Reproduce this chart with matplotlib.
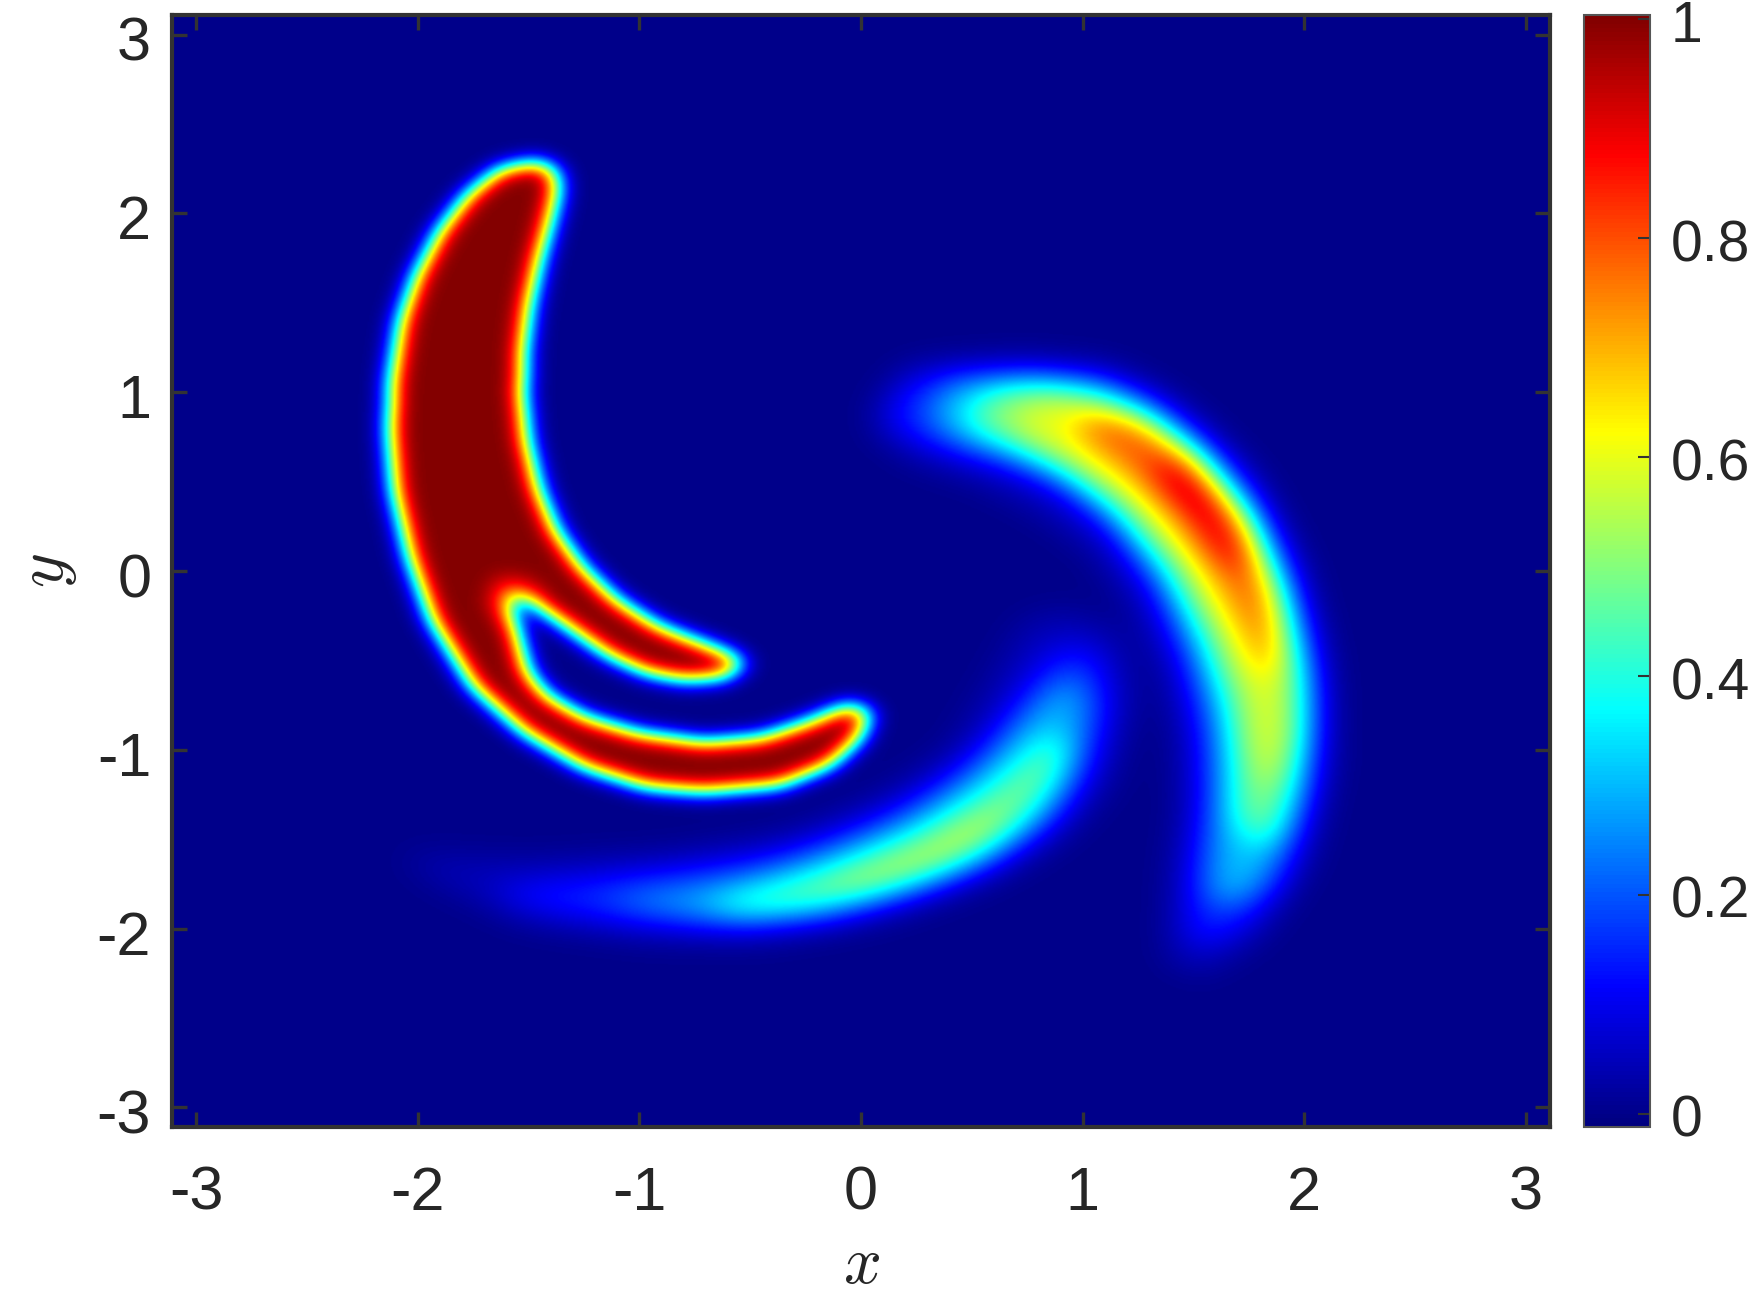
import numpy as np
import matplotlib
matplotlib.use('Agg')
import matplotlib.pyplot as plt
from matplotlib.colors import LinearSegmentedColormap
from matplotlib.path import Path
from matplotlib.transforms import ScaledTranslation

# contour lines, (x, y) in axis units
left_edge = [(-1.47,2.29),(-1.385,2.25),(-1.37,2.14),(-1.40,1.98),(-1.456,1.73),(-1.50,1.48),(-1.525,1.23),(-1.53,.98),
             (-1.51,.73),(-1.456,.453),(-1.38,.228),(-1.266,.028),(-1.11,-.16),(-.92,-.31),(-.713,-.41),(-.58,-.475),
             (-.53,-.52),(-.62,-.595),(-.80,-.61),(-.97,-.57),(-1.145,-.47),(-1.317,-.32),(-1.47,-.19),(-1.60,-.11),
             (-1.55,-.37),(-1.507,-.57),(-1.42,-.70),(-1.25,-.82),(-1.006,-.91),(-.713,-.96),(-.454,-.935),(-.246,-.85),
             (-.056,-.75),(.04,-.79),(-.01,-.935),(-.14,-1.085),(-.367,-1.20),(-.713,-1.235),(-.97,-1.21),(-1.25,-1.10),
             (-1.525,-.90),(-1.75,-.65),(-1.94,-.27),(-2.04,.08),(-2.11,.453),(-2.13,.78),(-2.12,1.08),(-2.08,1.40),
             (-2.01,1.65),(-1.905,1.90),(-1.78,2.10),(-1.63,2.25)]
# the paler red patch round the top of the notch
left_notch = [(-1.66,-.02),(-1.52,-.03),(-1.42,-.12),(-1.5,-.28),(-1.62,-.32),(-1.70,-.18)]

right_faint = [(.05,.89),(.20,1.16),(.75,1.21),(1.135,1.16),(1.445,.94),(1.76,.575),(1.99,.04),(2.11,-.54),(2.13,-1.08),
               (2.02,-1.63),(1.80,-2.05),(1.54,-2.27),(1.38,-2.19),(1.40,-1.68),(1.445,-1.32),(1.43,-.955),(1.37,-.615),
               (1.21,-.20),(1.03,.114),(.78,.33),(.51,.50),(.25,.60),(.08,.75)]
right_blue = [(.11,.89),(.20,1.06),(.435,1.13),(.75,1.12),(1.06,1.10),(1.29,.99),(1.52,.77),(1.76,.45),(1.91,.09),(2.02,-.35),
              (2.07,-.71),(2.05,-1.08),(2.005,-1.39),(1.90,-1.76),(1.725,-2.0),(1.57,-2.10),(1.46,-2.05),(1.48,-1.68),
              (1.52,-1.32),(1.51,-.955),(1.445,-.54),(1.32,-.13),(1.135,.21),(.90,.45),(.67,.575),(.435,.65),(.25,.72),(.14,.79)]
right_light = [(.3,.89),(.4,1.06),(.75,1.09),(1.06,1.05),(1.29,.93),(1.52,.70),(1.76,.36),(1.91,-.03),(2.01,-.47),(2.03,-.85),
               (2.0,-1.2),(1.93,-1.5),(1.82,-1.76),(1.68,-1.88),(1.56,-1.82),(1.58,-1.55),(1.61,-1.2),(1.6,-.85),(1.5,-.45),
               (1.35,-.05),(1.13,.3),(.9,.52),(.67,.64),(.45,.72),(.35,.79)]
right_cyan = [(.48,.89),(.59,1.025),(.82,1.05),(1.06,1.0),(1.29,.87),(1.52,.62),(1.76,.26),(1.91,-.15),(1.99,-.59),(1.99,-.955),
              (1.94,-1.27),(1.865,-1.49),(1.79,-1.54),(1.69,-1.37),(1.69,-1.08),(1.65,-.71),(1.54,-.35),(1.37,.04),(1.135,.38),
              (.90,.58),(.67,.70),(.51,.79)]
right_green = [(.68,.89),(.82,.99),(1.06,.95),(1.29,.82),(1.52,.60),(1.76,.21),(1.90,-.23),(1.94,-.59),(1.935,-.955),(1.88,-1.17),
               (1.82,-1.22),(1.76,-1.03),(1.725,-.71),(1.63,-.40),(1.46,-.01),(1.21,.33),(.995,.527),(.78,.70),(.70,.79)]
right_yellow = [(.95,.82),(1.06,.88),(1.29,.83),(1.52,.65),(1.725,.33),(1.85,-.10),(1.87,-.40),(1.85,-.57),(1.82,-.59),
                (1.74,-.35),(1.60,-.03),(1.41,.31),(1.21,.55),(1.03,.72)]
right_red = [(1.31,.62),(1.43,.60),(1.57,.43),(1.68,.21),(1.74,-.01),(1.66,.04),(1.54,.26),(1.41,.43)]

low_faint = [(-2.09,-1.58),(-1.52,-1.62),(-.86,-1.58),(-.31,-1.47),(.12,-1.24),(.41,-1.0),(.58,-.63),(.74,-.27),(.93,-.22),
             (1.17,-.35),(1.23,-.72),(1.11,-1.21),(.89,-1.50),(.56,-1.73),(.12,-1.93),(-.42,-2.06),(-.97,-2.06),(-1.52,-1.97),(-1.91,-1.75)]
low_blue = [(-1.67,-1.78),(-1.30,-1.73),(-.86,-1.67),(-.42,-1.60),(.01,-1.43),(.34,-1.22),(.58,-.98),(.74,-.68),(.85,-.48),(.98,-.40),
            (1.09,-.51),(1.11,-.78),(1.04,-1.09),(.91,-1.36),(.67,-1.58),(.34,-1.75),(-.095,-1.92),(-.53,-1.99),(-.97,-1.98),(-1.30,-1.93),(-1.56,-1.86)]
low_light = [(-1.2,-1.84),(-.6,-1.74),(-.2,-1.6),(.2,-1.38),(.5,-1.12),(.72,-.82),(.88,-.62),(1.0,-.6),(1.03,-.8),(.96,-1.1),(.82,-1.38),
             (.58,-1.62),(.25,-1.79),(-.15,-1.92),(-.7,-1.96)]
low_cyan = [(-.72,-1.86),(-.42,-1.78),(-.095,-1.65),(.23,-1.49),(.52,-1.28),(.74,-1.06),(.86,-.91),(.93,-.96),(.89,-1.17),(.74,-1.41),
            (.45,-1.64),(.12,-1.78),(-.25,-1.90),(-.53,-1.93)]
low_green = [(-.205,-1.775),(.06,-1.67),(.34,-1.52),(.58,-1.355),(.67,-1.37),(.54,-1.54),(.28,-1.69),(-.01,-1.80)]

# value reached inside each contour
left_levels = [1.0, .9]
right_levels = [.05, .15, .31, .5, .6, .8, 1.0]
low_levels = [.05, .16, .3, .5, .6]

x_ticks = [-3, -2, -1, 0, 1, 2, 3]
y_ticks = [-3, -2, -1, 0, 1, 2, 3]
tick_labels = ['-3', '-2', '-1', '0', '1', '2', '3']
cbar_ticks = [0, 0.2, 0.4, 0.6, 0.8, 1]
cbar_labels = ['0', '0.2', '0.4', '0.6', '0.8', '1']

lim = 3.11
n = 1000
xs = np.linspace(-lim, lim, n)
ys = np.linspace(-lim, lim, n)
xx, yy = np.meshgrid(xs, ys)
pts = np.column_stack([xx.ravel(), yy.ravel()])
step = xs[1] - xs[0]
fx = np.fft.fftfreq(n, step)
kx, ky = np.meshgrid(fx, fx)


def layer(outline, sigma):
    mask = Path(outline + [outline[0]]).contains_points(pts).reshape(n, n).astype(float)
    kernel = np.exp(-2 * (np.pi * sigma) ** 2 * (kx ** 2 + ky ** 2))
    return np.real(np.fft.ifft2(np.fft.fft2(mask) * kernel))


def stack(outlines, levels, sigma):
    out = np.zeros((n, n))
    prev = 0
    for o, l in zip(outlines, levels):
        out += (l - prev) * layer(o, sigma)
        prev = l
    return out


field = stack([left_edge], left_levels[:1], 0.055)
# notch patch only dims what is already red
field -= (left_levels[0] - left_levels[1]) * layer(left_notch, 0.05) * np.clip(field, 0, 1)
field += stack([right_faint, right_blue, right_light, right_cyan, right_green, right_yellow, right_red], right_levels, 0.085)
field += stack([low_faint, low_blue, low_light, low_cyan, low_green], low_levels, 0.09)

jet = LinearSegmentedColormap.from_list('mjet', [(0, (0, 0, .4975)), (.125, (0, 0, 1)), (.375, (0, 1, 1)),
                                                 (.625, (1, 1, 0)), (.875, (1, 0, 0)), (1, (.5, 0, 0))], N=256)

plt.rcParams['font.family'] = ['Liberation Sans', 'DejaVu Sans']
plt.rcParams['mathtext.fontset'] = 'cm'
dark = '#262626'
W, H = 1750, 1313
fig = plt.figure(figsize=(W / 100, H / 100), dpi=100)
ax = fig.add_axes([172 / W, 1 - 1127 / H, (1550 - 172) / W, (1127 - 15) / H])
im = ax.imshow(field, origin='lower', extent=[-lim, lim, -lim, lim], aspect='auto', cmap=jet,
               vmin=-0.012, vmax=1.004, interpolation='bilinear')
ax.set_xticks(x_ticks)
ax.set_xticklabels(tick_labels)
ax.set_yticks(y_ticks)
ax.set_yticklabels(tick_labels)
ax.tick_params(axis='both', direction='in', top=True, right=True, length=11, width=2.4, color='#333333',
               labelsize=44, labelcolor=dark)
ax.tick_params(axis='x', pad=28)
ax.tick_params(axis='y', pad=15)
for s in ax.spines.values():
    s.set_linewidth(3)
    s.set_color('#333333')
ax.set_xlabel('$x$', fontsize=48, color=dark, labelpad=9)
ax.set_ylabel('$y$', fontsize=48, color=dark, labelpad=13)

cax = fig.add_axes([1584 / W, 1 - 1127 / H, (1650 - 1584) / W, (1127 - 15) / H])
cb = fig.colorbar(im, cax=cax)
cb.set_ticks(cbar_ticks)
cb.set_ticklabels(cbar_labels)
cax.tick_params(axis='y', direction='in', length=9, width=1.5, color='#333333', labelsize=41, labelcolor=dark, pad=15)
cb.outline.set_linewidth(1.5)
cb.outline.set_edgecolor('#555555')

# labels sit a little lower in the original
for lab in ax.get_yticklabels():
    lab.set_transform(lab.get_transform() + ScaledTranslation(0, -4 / 100, fig.dpi_scale_trans))
for lab in cax.get_yticklabels():
    lab.set_transform(lab.get_transform() + ScaledTranslation(0, -2 / 100, fig.dpi_scale_trans))

fig.savefig('out.png', dpi=100)
